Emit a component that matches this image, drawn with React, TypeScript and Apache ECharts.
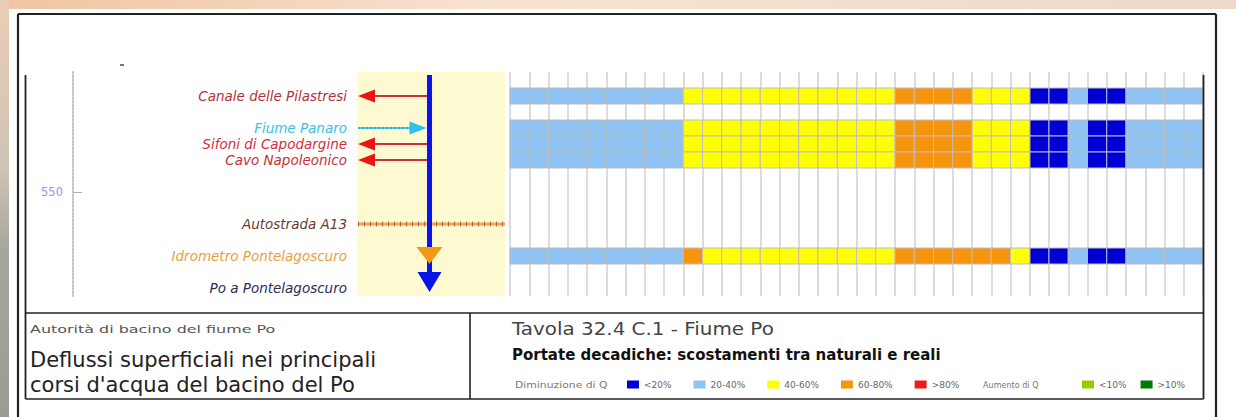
import React, { useEffect, useRef } from "react";
import * as echarts from "echarts";

const decades = [
  "Gen I", "Gen II", "Gen III", "Feb I", "Feb II", "Feb III", "Mar I", "Mar II", "Mar III",
  "Apr I", "Apr II", "Apr III", "Mag I", "Mag II", "Mag III", "Giu I", "Giu II", "Giu III",
  "Lug I", "Lug II", "Lug III", "Ago I", "Ago II", "Ago III", "Set I", "Set II", "Set III",
  "Ott I", "Ott II", "Ott III", "Nov I", "Nov II", "Nov III", "Dic I", "Dic II", "Dic III",
];

const profileRows = [
  "_r0", "Canale delle Pilastresi", "_r2", "Fiume Panaro", "Sifoni di Capodargine",
  "Cavo Napoleonico", "_r6", "_r7", "_r8", "Autostrada A13", "_r10",
  "Idrometro Pontelagoscuro", "_r12", "Po a Pontelagoscuro",
];
const profileLabelColors = [
  "#000", "#b3323c", "#000", "#39c2e6", "#cf2f3a", "#c93039", "#000", "#000", "#000",
  "#6a3b2c", "#000", "#e6a040", "#000", "#2b2b5c",
];

const decreaseClasses = ["<20%", "20-40%", "40-60%", "60-80%", ">80%"];
const decreaseColors = ["#0000d6", "#8fc3f3", "#ffff00", "#f7940d", "#ee1b1b"];
const increaseClasses = ["<10%", ">10%"];
const increaseColors = ["#99cc00", "#007a00"];

// class index per decade: 0 "<20%", 1 "20-40%", 2 "40-60%", 3 "60-80%", 4 ">80%"
const qCanalePilastresi = [1, 1, 1, 1, 1, 1, 1, 1, 1, 2, 2, 2, 2, 2, 2, 2, 2, 2, 2, 2, 3, 3, 3, 3, 2, 2, 2, 0, 0, 1, 0, 0, 1, 1, 1, 1];
const qFiumePanaro = [1, 1, 1, 1, 1, 1, 1, 1, 1, 2, 2, 2, 2, 2, 2, 2, 2, 2, 2, 2, 3, 3, 3, 3, 2, 2, 2, 0, 0, 1, 0, 0, 1, 1, 1, 1];
const qSifoniCapodargine = [1, 1, 1, 1, 1, 1, 1, 1, 1, 2, 2, 2, 2, 2, 2, 2, 2, 2, 2, 2, 3, 3, 3, 3, 2, 2, 2, 0, 0, 1, 0, 0, 1, 1, 1, 1];
const qCavoNapoleonico = [1, 1, 1, 1, 1, 1, 1, 1, 1, 2, 2, 2, 2, 2, 2, 2, 2, 2, 2, 2, 3, 3, 3, 3, 2, 2, 2, 0, 0, 1, 0, 0, 1, 1, 1, 1];
const qIdrometroPontelagoscuro = [1, 1, 1, 1, 1, 1, 1, 1, 1, 3, 2, 2, 2, 2, 2, 2, 2, 2, 2, 2, 3, 3, 3, 3, 3, 3, 2, 0, 0, 1, 0, 0, 1, 1, 1, 1];

const stationSeries = [
  { row: 1, classes: qCanalePilastresi },
  { row: 3, classes: qFiumePanaro },
  { row: 4, classes: qSifoniCapodargine },
  { row: 5, classes: qCavoNapoleonico },
  { row: 11, classes: qIdrometroPontelagoscuro },
];

const riverPosition = 49;
const riverRows = [0, 13];
const withdrawalRows = [1, 4, 5];
const inflowRows = [3];
const crossingRows = [9];
const gaugeRows = [11];
const kmRange = [490, 602];
const kmTicks = [550];

const FONT = "DejaVu Sans";

function cellRenderer(color: string) {
  return (_p: any, api: any) => {
    const c = api.coord([api.value(0), api.value(1)]);
    const s = api.size([1, 1]);
    return {
      type: "rect",
      shape: { x: c[0] - s[0] / 2, y: c[1] - s[1] / 2, width: s[0], height: s[1] },
      style: { fill: color, stroke: "#bdbdbd", lineWidth: 1 },
    };
  };
}

function buildOption() {
  const heatSeries: any[] = decreaseClasses.map((name, k) => ({
    type: "custom",
    name,
    xAxisIndex: 1,
    yAxisIndex: 1,
    clip: false,
    itemStyle: { color: decreaseColors[k] },
    data: stationSeries.flatMap((s) =>
      s.classes.map((c, i) => (c === k ? [i, s.row] : null)).filter((d) => d !== null)
    ),
    renderItem: cellRenderer(decreaseColors[k]),
  }));
  increaseClasses.forEach((name, k) => {
    heatSeries.push({
      type: "custom",
      name,
      xAxisIndex: 1,
      yAxisIndex: 1,
      itemStyle: { color: increaseColors[k] },
      data: [],
      renderItem: cellRenderer(increaseColors[k]),
    });
  });

  const river = {
    type: "custom",
    name: "Po",
    xAxisIndex: 0,
    yAxisIndex: 0,
    clip: false,
    z: 5,
    data: [[riverPosition, riverRows[0], riverRows[1]]],
    renderItem: (_p: any, api: any) => {
      const x = api.value(0);
      const top = api.coord([x, api.value(1)]);
      const bot = api.coord([x, api.value(2)]);
      const h = api.size([0, 1])[1];
      const y0 = top[1] - h / 2 + 3;
      const tip = bot[1] + 4;
      const headLen = 20;
      const headW = 12;
      return {
        type: "group",
        children: [
          { type: "line", shape: { x1: top[0], y1: y0, x2: top[0], y2: tip - headLen + 2 }, style: { stroke: "#0a14e6", lineWidth: 5 } },
          { type: "polygon", shape: { points: [[top[0] - headW, tip - headLen], [top[0] + headW, tip - headLen], [top[0], tip]] }, style: { fill: "#0a14e6" } },
        ],
      };
    },
  };

  const withdrawals = {
    type: "custom",
    name: "prelievi",
    xAxisIndex: 0,
    yAxisIndex: 0,
    clip: false,
    z: 4,
    data: withdrawalRows.map((r) => [riverPosition, r]),
    renderItem: (_p: any, api: any) => {
      const c = api.coord([api.value(0), api.value(1)]);
      const left = api.coord([0, api.value(1)])[0] + 1;
      const headLen = 17;
      const hw = 6.5;
      return {
        type: "group",
        children: [
          { type: "line", shape: { x1: c[0], y1: c[1], x2: left + headLen - 1, y2: c[1] }, style: { stroke: "#e23030", lineWidth: 2.2 } },
          { type: "line", shape: { x1: c[0], y1: c[1], x2: left + headLen - 1, y2: c[1] }, style: { stroke: "#8e3535", lineWidth: 1, lineDash: [2, 2] } },
          { type: "polygon", shape: { points: [[left, c[1]], [left + headLen, c[1] - hw], [left + headLen, c[1] + hw]] }, style: { fill: "#ee1212" } },
        ],
      };
    },
  };

  const inflows = {
    type: "custom",
    name: "immissioni",
    xAxisIndex: 0,
    yAxisIndex: 0,
    clip: false,
    z: 4,
    data: inflowRows.map((r) => [riverPosition, r]),
    renderItem: (_p: any, api: any) => {
      const c = api.coord([api.value(0), api.value(1)]);
      const left = api.coord([0, api.value(1)])[0] + 1;
      const tipX = c[0] - 3;
      const headLen = 17;
      const hw = 6.5;
      return {
        type: "group",
        children: [
          { type: "line", shape: { x1: left, y1: c[1], x2: tipX - headLen + 1, y2: c[1] }, style: { stroke: "#48c9ef", lineWidth: 2.2 } },
          { type: "line", shape: { x1: left, y1: c[1], x2: tipX - headLen + 1, y2: c[1] }, style: { stroke: "#2a8db0", lineWidth: 1, lineDash: [2, 2] } },
          { type: "polygon", shape: { points: [[tipX, c[1]], [tipX - headLen, c[1] - hw], [tipX - headLen, c[1] + hw]] }, style: { fill: "#2fc0ea" } },
        ],
      };
    },
  };

  const crossings = {
    type: "custom",
    name: "A13",
    xAxisIndex: 0,
    yAxisIndex: 0,
    clip: false,
    z: 3,
    data: crossingRows.map((r) => [r]),
    renderItem: (_p: any, api: any) => {
      const a = api.coord([0, api.value(0)]);
      const b = api.coord([100, api.value(0)]);
      return {
        type: "group",
        children: [
          { type: "line", shape: { x1: a[0] + 1, y1: a[1], x2: b[0], y2: b[1] }, style: { stroke: "#eca35e", lineWidth: 3 } },
          { type: "line", shape: { x1: a[0] + 1, y1: a[1], x2: b[0], y2: b[1] }, style: { stroke: "#b0663a", lineWidth: 5, lineDash: [1, 5] } },
        ],
      };
    },
  };

  const gauges = {
    type: "custom",
    name: "idrometro",
    xAxisIndex: 0,
    yAxisIndex: 0,
    clip: false,
    z: 6,
    data: gaugeRows.map((r) => [riverPosition, r]),
    renderItem: (_p: any, api: any) => {
      const c = api.coord([api.value(0), api.value(1)]);
      return {
        type: "polygon",
        shape: { points: [[c[0] - 13, c[1] - 9], [c[0] + 13, c[1] - 9], [c[0], c[1] + 8]] },
        style: { fill: "#f39a12" },
      };
    },
  };

  const line = (x1: number, y1: number, x2: number, y2: number, w = 1.6, color = "#222") => ({
    type: "line",
    z: 20,
    shape: { x1, y1, x2, y2 },
    style: { stroke: color, lineWidth: w },
  });
  const text = (x: number, y: number, t: string, size: number, fill: string, extra: any = {}) => ({
    type: "text",
    z: 20,
    x,
    y,
    scaleX: extra.scaleX ?? 1,
    style: {
      text: t,
      fontSize: size,
      fontFamily: FONT,
      fontWeight: extra.bold ? "bold" : "normal",
      fill,
      align: "left",
      verticalAlign: "middle",
    },
  });

  const graphic: any[] = [
    {
      type: "rect",
      z: 1,
      shape: { x: 0, y: 0, width: 1236, height: 9 },
      style: {
        fill: new echarts.graphic.LinearGradient(0, 0, 1, 0, [
          { offset: 0, color: "#f0c4a2" },
          { offset: 0.4, color: "#f8e2d0" },
          { offset: 1, color: "#eed8cc" },
        ]),
      },
    },
    {
      type: "rect",
      z: 1,
      shape: { x: 0, y: 0, width: 9, height: 417 },
      style: {
        fill: new echarts.graphic.LinearGradient(0, 0, 0, 1, [
          { offset: 0, color: "#ebcdb6" },
          { offset: 0.4, color: "#cfc4b6" },
          { offset: 0.6, color: "#a7a69c" },
          { offset: 1, color: "#9c9b92" },
        ]),
      },
    },
    line(18, 14, 18, 417, 2.2),
    line(18, 14, 1216, 14, 2.2),
    line(1216, 14, 1216, 417, 2.2),
    line(25.5, 75, 25.5, 399, 1.8),
    line(1203.5, 75, 1203.5, 399, 1.8),
    line(25.5, 313, 1203.5, 313, 1.6),
    line(25.5, 399, 1203.5, 399, 1.6),
    line(470, 313, 470, 399, 1.6),
    { type: "rect", z: 20, shape: { x: 120, y: 64, width: 4, height: 2 }, style: { fill: "#777" } },
    text(30, 329, "Autorità di bacino del fiume Po", 11, "#555", { scaleX: 1.45 }),
    text(30, 360, "Deflussi superficiali nei principali", 21, "#222"),
    text(30, 385, "corsi d'acqua del bacino del Po", 21, "#222"),
    text(512, 329, "Tavola 32.4 C.1 - Fiume Po", 17, "#444", { scaleX: 1.17 }),
    text(512, 355, "Portate decadiche: scostamenti tra naturali e reali", 15, "#111", { bold: true }),
    text(515, 385, "Diminuzione di Q", 9, "#777", { scaleX: 1.2 }),
    text(983, 385, "Aumento di Q", 8.5, "#777", { scaleX: 0.95 }),
  ];

  return {
    animation: false,
    backgroundColor: "#ffffff",
    textStyle: { fontFamily: FONT },
    grid: [
      { left: 357, top: 72, width: 148, height: 224, show: true, backgroundColor: "#fdfad2", borderWidth: 0 },
      { left: 510, top: 72, width: 693, height: 224, show: false },
    ],
    xAxis: [
      { type: "value", gridIndex: 0, min: 0, max: 100, show: false },
      {
        type: "category",
        gridIndex: 1,
        data: decades,
        axisLine: { show: false },
        axisTick: { show: false },
        axisLabel: { show: false, interval: 0 },
        splitLine: { show: true, interval: 0, lineStyle: { color: "#dcdcdc", width: 2 } },
      },
    ],
    yAxis: [
      {
        type: "category",
        gridIndex: 0,
        data: profileRows,
        inverse: true,
        axisLine: { show: false },
        axisTick: { show: false },
        axisLabel: {
          interval: 0,
          margin: 10,
          fontSize: 13.5,
          fontStyle: "italic",
          fontFamily: FONT,
          color: (_v: any, i: number) => profileLabelColors[i],
          formatter: (v: string) => (v.startsWith("_") ? "" : v),
        },
      },
      {
        type: "category",
        gridIndex: 1,
        data: profileRows,
        inverse: true,
        show: false,
      },
      {
        type: "value",
        gridIndex: 0,
        position: "left",
        offset: 284,
        min: kmRange[0],
        max: kmRange[1],
        inverse: true,
        splitLine: { show: false },
        axisLine: { show: true, onZero: false, lineStyle: { color: "#bdbdbd", type: "dotted", width: 1.8 } },
        axisTick: { show: true, inside: true, length: 9, customValues: kmTicks, lineStyle: { color: "#b0b0b0" } },
        axisLabel: {
          customValues: kmTicks,
          color: "#a98de6",
          fontSize: 11.5,
          margin: 10,
          formatter: (v: number) => (kmTicks.includes(v) ? String(v) : ""),
        },
      },
    ],
    legend: [
      {
        data: decreaseClasses,
        left: 627,
        top: 380,
        icon: "rect",
        itemWidth: 12,
        itemHeight: 8,
        itemGap: 22,
        padding: 0,
        selectedMode: false,
        textStyle: { fontSize: 9, color: "#666", fontFamily: FONT },
      },
      {
        data: increaseClasses,
        left: 1082,
        top: 380,
        icon: "rect",
        itemWidth: 12,
        itemHeight: 8,
        itemGap: 14,
        padding: 0,
        selectedMode: false,
        textStyle: { fontSize: 9, color: "#666", fontFamily: FONT },
      },
    ],
    graphic: { elements: graphic },
    series: [...heatSeries, crossings, withdrawals, inflows, river, gauges],
  };
}

export default function App() {
  const ref = useRef<HTMLDivElement>(null);
  useEffect(() => {
    document.body.style.margin = "0";
    if (!ref.current) return;
    const chart = echarts.init(ref.current, undefined, { renderer: "svg" });
    chart.setOption(buildOption() as any);
    return () => chart.dispose();
  }, []);
  return <div ref={ref} style={{ width: 1236, height: 417 }} />;
}
